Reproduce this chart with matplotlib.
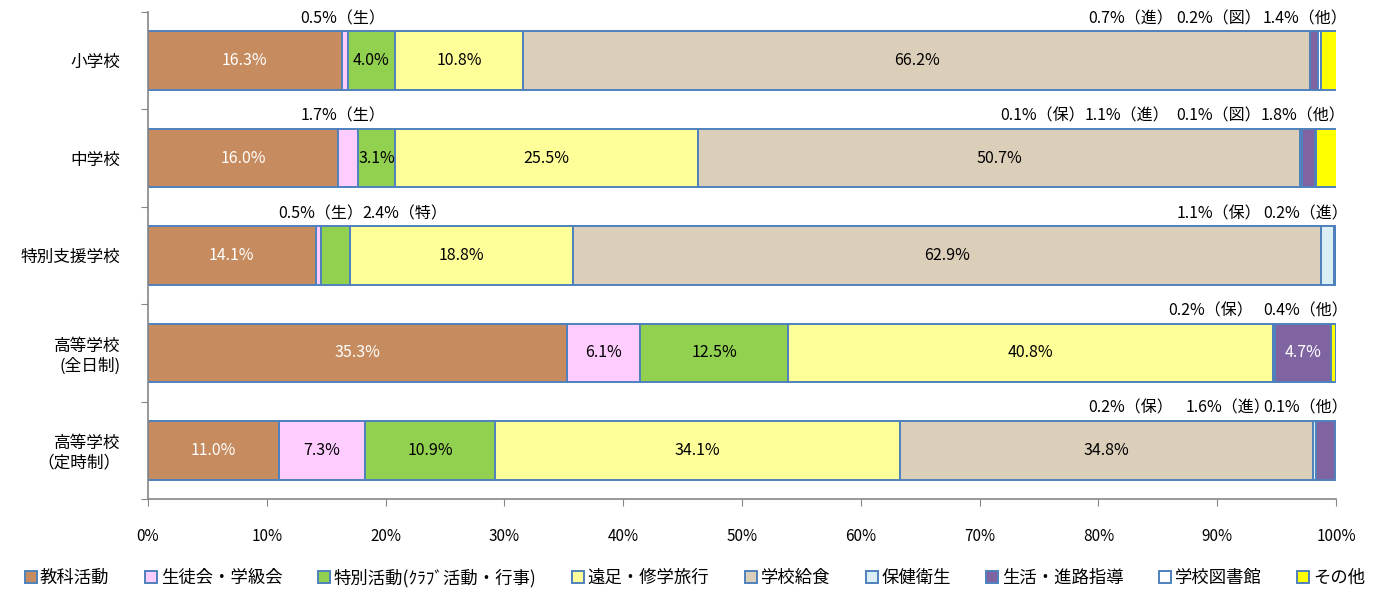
import matplotlib
matplotlib.use("Agg")
import matplotlib.pyplot as plt
import numpy as np

plt.rcParams['font.family'] = ['Noto Sans CJK JP', 'DejaVu Sans']

schools = ['小学校', '中学校', '特別支援学校', '高等学校\n(全日制)', '高等学校\n（定時制）']
categories = ['教科活動', '生徒会・学級会', '特別活動(ｸﾗﾌﾞ活動・行事)', '遠足・修学旅行',
              '学校給食', '保健衛生', '生活・進路指導', '学校図書館', 'その他']
short = ['教', '生', '特', '遠', '給', '保', '進', '図', '他']

# percent per school, columns follow categories
kyoka = [16.3, 16.0, 14.1, 35.3, 11.0]
seito = [0.5, 1.7, 0.5, 6.1, 7.3]
tokubetsu = [4.0, 3.1, 2.4, 12.5, 10.9]
ensoku = [10.8, 25.5, 18.8, 40.8, 34.1]
kyushoku = [66.2, 50.7, 62.9, 0.0, 34.8]
hoken = [0.0, 0.1, 1.1, 0.2, 0.2]
shinro = [0.7, 1.1, 0.2, 4.7, 1.6]
tosho = [0.2, 0.1, 0.0, 0.0, 0.0]
sonota = [1.4, 1.8, 0.0, 0.4, 0.1]
values = np.array([kyoka, seito, tokubetsu, ensoku, kyushoku, hoken, shinro, tosho, sonota])

colors = ['#C68B5E', '#FFCCFF', '#92D050', '#FFFF99', '#DCCFBA',
          '#DAEEF3', '#8064A2', '#FFFFFF', '#FFFF00']
label_white = [True, False, False, False, False, False, True, False, False]

# small segments labelled above the bar: (row, category, x position in %)
outside = [
    (0, 1, 16.4), (0, 6, 82.7), (0, 7, 90.1), (0, 8, 97.4),
    (1, 1, 16.4), (1, 5, 75.3), (1, 6, 82.4), (1, 7, 90.1), (1, 8, 97.2),
    (2, 1, 14.5), (2, 2, 21.6), (2, 5, 90.1), (2, 6, 97.4),
    (3, 5, 89.4), (3, 8, 97.4),
    (4, 5, 82.7), (4, 6, 90.9), (4, 8, 97.4),
]
outside_set = {(r, c) for r, c, _ in outside}

fig = plt.figure(figsize=(13.73, 5.91), dpi=100)
ax = fig.add_axes([0.1078, 0.1557, 0.8653, 0.824])

y = np.arange(len(schools))
left = np.zeros(len(schools))
handles = []
for i, cat in enumerate(categories):
    h = ax.barh(y, values[i], left=left, height=0.6, color=colors[i],
                edgecolor='#4F81BD', linewidth=1.4, label=cat)
    handles.append(h)
    for r in range(len(schools)):
        v = values[i][r]
        if v > 0 and (r, i) not in outside_set:
            ax.text(left[r] + v / 2, y[r], f'{v:.1f}%', ha='center', va='center',
                    fontsize=11.5, color='white' if label_white[i] else 'black')
    left = left + values[i]

for r, c, xp in outside:
    ax.text(xp, y[r] - 0.43, f'{values[c][r]:.1f}%（{short[c]}）', ha='center',
            va='center', fontsize=11.5)

ax.set_xlim(0, 100)
ax.set_ylim(4.5, -0.5)
ax.set_xticks(np.arange(0, 101, 10))
ax.set_xticklabels([f'{t}%' for t in range(0, 101, 10)], fontsize=11)
ax.set_yticks(np.arange(-0.5, 5, 1))
ax.set_yticklabels([])
ax.set_yticks(y, minor=True)
ax.set_yticklabels(schools, minor=True, fontsize=12, multialignment='right')
ax.tick_params(axis='y', which='minor', length=0, pad=20)
ax.tick_params(axis='y', which='major', length=5, color='#868686')
ax.tick_params(axis='x', length=5, color='#868686', pad=16)
for s in ['top', 'right']:
    ax.spines[s].set_visible(False)
for s in ['left', 'bottom']:
    ax.spines[s].set_color('#868686')
    ax.spines[s].set_linewidth(1.2)

fig.legend(handles=handles, loc='lower center', bbox_to_anchor=(0.506, -0.02),
           ncol=9, frameon=False, fontsize=12.5, handlelength=0.7,
           handleheight=0.7, handletextpad=0.2, columnspacing=2.05)

fig.savefig('out.png', dpi=100)
